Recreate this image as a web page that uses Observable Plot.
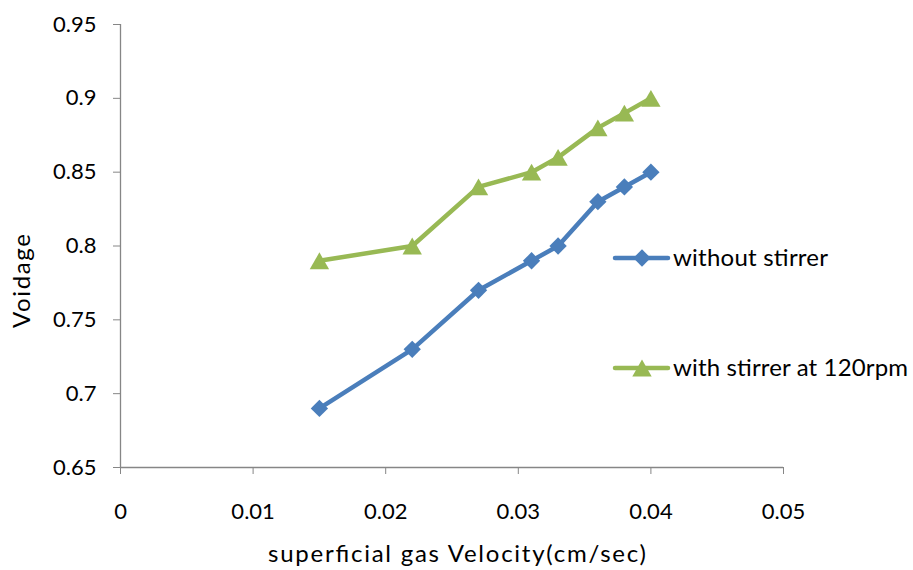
<!DOCTYPE html>
<html>
<head>
<meta charset="utf-8">
<script src="https://cdn.jsdelivr.net/npm/d3@7"></script>
<script src="https://cdn.jsdelivr.net/npm/@observablehq/plot@0.6"></script>
<style>
  html, body { margin: 0; padding: 0; background: #fff; }
</style>
</head>
<body>
<div id="wrap"></div>
<script>
const velocity = [0.015, 0.022, 0.027, 0.031, 0.033, 0.036, 0.038, 0.040];
const withoutStirrer = [0.69, 0.73, 0.77, 0.79, 0.80, 0.83, 0.84, 0.85];
const withStirrer = [0.79, 0.80, 0.84, 0.85, 0.86, 0.88, 0.89, 0.90];
const seriesNames = ["without stirrer", "with stirrer at 120rpm"];
const xTicks = [0, 0.01, 0.02, 0.03, 0.04, 0.05];
const yTicks = [0.65, 0.7, 0.75, 0.8, 0.85, 0.9, 0.95];
const xLabel = "superficial gas Velocity(cm/sec)";
const yLabel = "Voidage";

const blue = "#4A7EBB";
const green = "#98B954";
const axisGray = "#868686";
const font = "Lato, 'Open Sans', sans-serif";

const s1 = velocity.map((v, i) => ({x: v, y: withoutStirrer[i]}));
const s2 = velocity.map((v, i) => ({x: v, y: withStirrer[i]}));

const chart = Plot.plot({
  width: 913,
  height: 570,
  marginLeft: 120,
  marginRight: 130,
  marginTop: 24,
  marginBottom: 103,
  style: {fontFamily: font, fontSize: "22px", color: "#000", background: "#fff"},
  x: {domain: [0, 0.05]},
  y: {domain: [0.65, 0.95]},
  marks: [
    Plot.axisX({ticks: xTicks, tickSize: 7, tickPadding: 29, stroke: axisGray, fill: "#000", tickFormat: d => String(d), label: null, fontSize: 22}),
    Plot.axisY({ticks: yTicks, tickSize: 7, tickPadding: 17, stroke: axisGray, fill: "#000", tickFormat: d => String(d), label: null, fontSize: 22}),
    Plot.ruleX([0], {stroke: axisGray, strokeWidth: 1.3}),
    Plot.ruleY([0.65], {stroke: axisGray, strokeWidth: 1.3}),
    Plot.line(s1, {x: "x", y: "y", stroke: blue, strokeWidth: 4.5}),
    Plot.line(s2, {x: "x", y: "y", stroke: green, strokeWidth: 4.5}),
    Plot.dot(s1, {x: "x", y: "y", symbol: "diamond2", r: 7.8, fill: blue, stroke: "none"}),
    Plot.dot(s2, {x: "x", y: "y", symbol: "triangle", r: 7.2, fill: green, stroke: "none", dy: 2.8}),
    Plot.text([xLabel], {frameAnchor: "bottom", dx: 5, dy: 87, fontSize: 24, fill: "#000", lineAnchor: "middle", className: "xlab"}),
    Plot.text([yLabel], {frameAnchor: "left", dx: -98, dy: 35, rotate: -90, fontSize: 24, fill: "#000", lineAnchor: "middle", textAnchor: "middle", className: "ylab"})
  ]
});
document.getElementById("wrap").appendChild(chart);

// stretch label text to the reference's widths
d3.select(chart).selectAll("g.xlab text").attr("textLength", 378).attr("lengthAdjust", "spacing");
d3.select(chart).selectAll("g.ylab text").attr("textLength", 94).attr("lengthAdjust", "spacing");

// legend inside the plot area
const svg = d3.select(chart);
const legendItems = [
  {name: seriesNames[0], color: blue, shape: "diamond", cy: 258, w: 155},
  {name: seriesNames[1], color: green, shape: "triangle", cy: 368, w: 235}
];
const lg = svg.append("g").attr("font-family", font).attr("font-size", 24).attr("text-anchor", "start");
for (const it of legendItems) {
  const g = lg.append("g").attr("transform", `translate(614,${it.cy})`);
  g.append("line").attr("x1", 1).attr("x2", 54).attr("y1", 0).attr("y2", 0)
    .attr("stroke", it.color).attr("stroke-width", 4.5).attr("stroke-linecap", "round");
  const sym = it.shape === "diamond"
    ? d3.symbol(d3.symbolDiamond2, Math.PI * 7.8 * 7.8)()
    : d3.symbol(d3.symbolTriangle, Math.PI * 7.2 * 7.2)();
  g.append("path").attr("d", sym).attr("fill", it.color)
    .attr("transform", it.shape === "diamond" ? "translate(28,0)" : "translate(28,2.8)");
  g.append("text").attr("x", 59).attr("y", 0).attr("dy", "0.35em").attr("fill", "#000")
    .attr("text-anchor", "start")
    .attr("textLength", it.w).attr("lengthAdjust", "spacing").text(it.name);
}
</script>
</body>
</html>
